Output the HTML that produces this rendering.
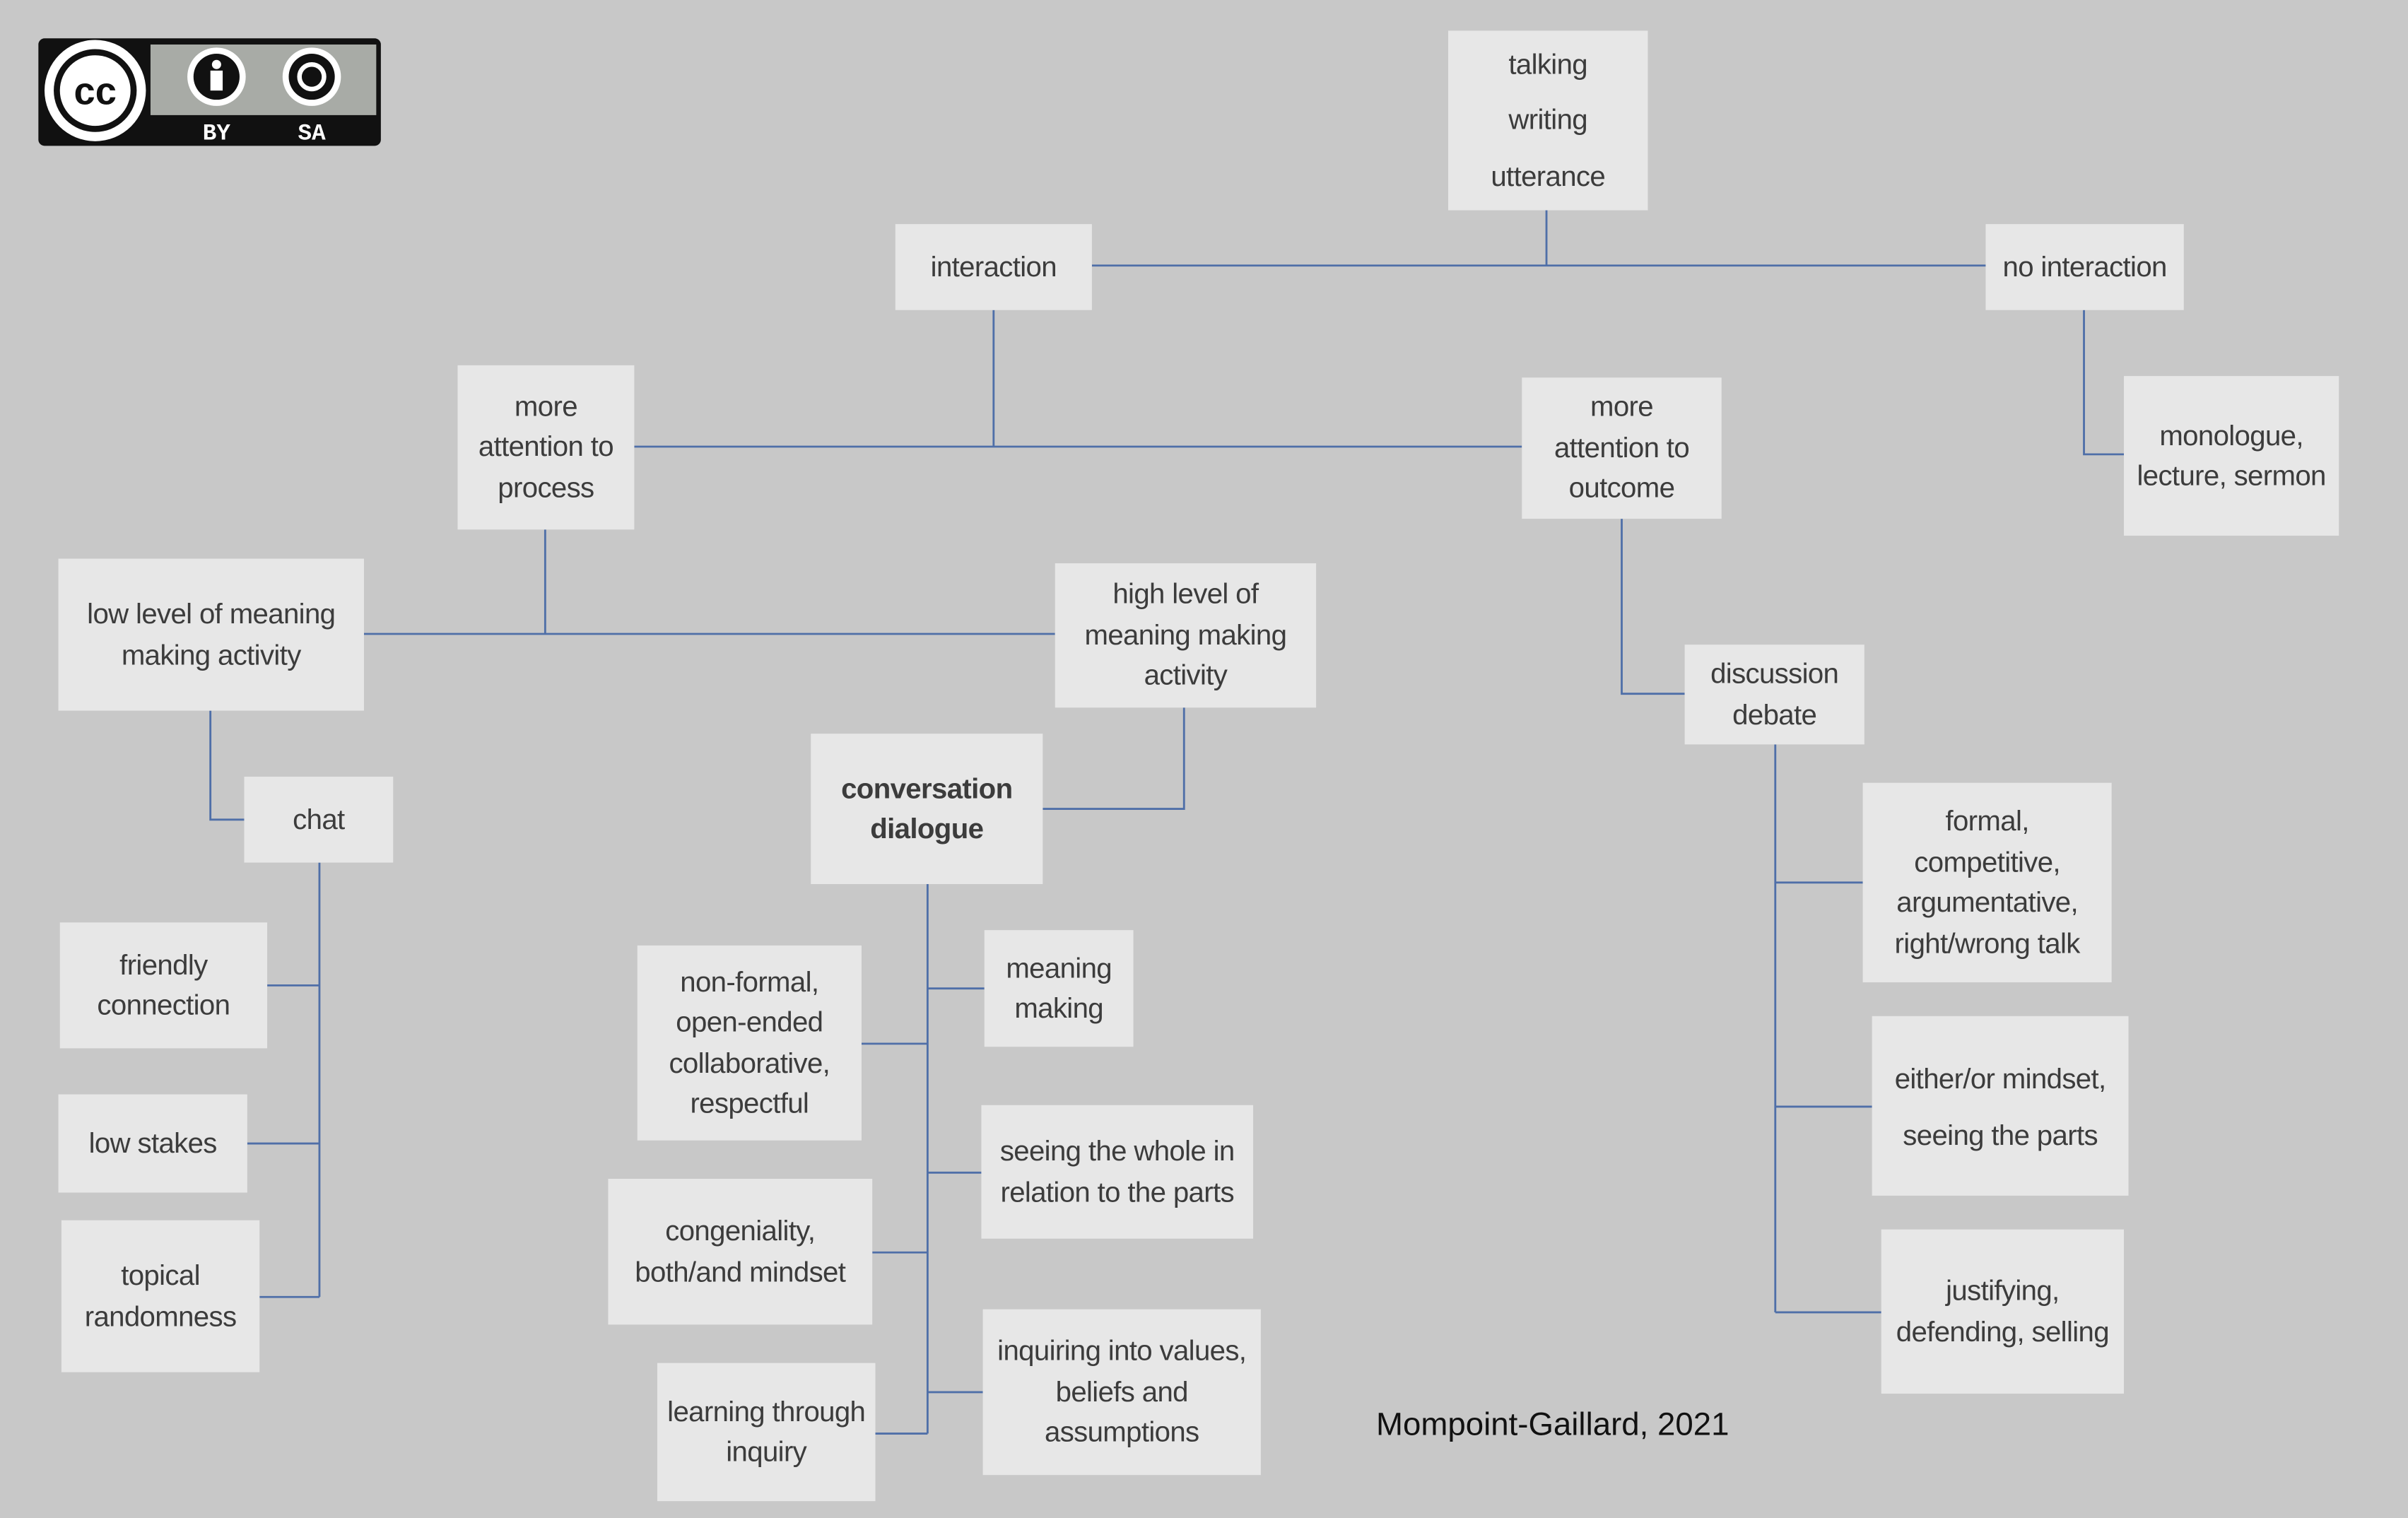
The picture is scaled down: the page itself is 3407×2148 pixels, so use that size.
<!DOCTYPE html>
<html><head><meta charset="utf-8"><style>
html,body{margin:0;padding:0;background:#c8c8c8;}
body{width:3407px;height:2148px;overflow:hidden;}
#s{position:absolute;left:0;top:0;width:1568px;height:989px;transform:scale(2.17283,2.17189);transform-origin:0 0;}
.b{position:absolute;background:#e7e7e7;display:flex;align-items:center;justify-content:center;text-align:center;font-family:"Liberation Sans",sans-serif;font-size:18.5px;line-height:26.5px;color:#3c3c3c;letter-spacing:-0.3px;}
svg{position:absolute;left:0;top:0;}
</style></head><body><div id="s">
<svg width="1568" height="989">
<g stroke="#4f6fa8" stroke-width="1.3" fill="none">
<path d="M711 173H1293M1007 137V173"/>
<path d="M647 202V291M413 291H991"/>
<path d="M1357 202V296H1383"/>
<path d="M355 345V413M237 413H687"/>
<path d="M137 463V534H159"/>
<path d="M771 461V527H679"/>
<path d="M1056 338V452H1097"/>
<path d="M208 562V845M208 642H174M208 745H161M208 845H169"/>
<path d="M604 576V934M604 644H641M604 764H639M604 907H640M604 680H561M604 816H568M604 934H570"/>
<path d="M1156 485V855M1156 575H1213M1156 721H1219M1156 855H1225"/>
</g>
<rect x="25" y="25" width="223" height="70" rx="4" fill="#111"/>
<rect x="98" y="29" width="147" height="46" fill="#a8aba6"/>
<circle cx="62" cy="59" r="33" fill="#fff"/>
<circle cx="62" cy="59" r="27" fill="#111"/>
<circle cx="62" cy="59" r="23" fill="#fff"/>
<text x="62" y="68" font-family="Liberation Sans" font-weight="bold" font-size="25" text-anchor="middle" fill="#111">cc</text>
<circle cx="141" cy="50" r="19" fill="#fff"/><circle cx="141" cy="50" r="15" fill="#111"/>
<circle cx="141" cy="42" r="3" fill="#fff"/><rect x="137" y="46" width="8" height="13" fill="#fff"/>
<circle cx="203" cy="50" r="19" fill="#fff"/><circle cx="203" cy="50" r="15" fill="#111"/>
<circle cx="203" cy="50" r="8" fill="none" stroke="#fff" stroke-width="3"/>
<text x="141" y="91" font-family="Liberation Mono" font-weight="bold" font-size="15" text-anchor="middle" fill="#fff">BY</text>
<text x="203" y="91" font-family="Liberation Mono" font-weight="bold" font-size="15" text-anchor="middle" fill="#fff">SA</text>
<text x="1011" y="935" font-family="Liberation Sans" font-size="21" text-anchor="middle" fill="#111">Mompoint-Gaillard, 2021</text>
</svg>
<div class="b" style="left:943px;top:20px;width:130px;height:117px;line-height:36.5px">talking<br>writing<br>utterance</div>
<div class="b" style="left:583px;top:146px;width:128px;height:56px">interaction</div>
<div class="b" style="left:1293px;top:146px;width:129px;height:56px">no interaction</div>
<div class="b" style="left:298px;top:238px;width:115px;height:107px">more<br>attention to<br>process</div>
<div class="b" style="left:991px;top:246px;width:130px;height:92px">more<br>attention to<br>outcome</div>
<div class="b" style="left:1383px;top:245px;width:140px;height:104px">monologue,<br>lecture, sermon</div>
<div class="b" style="left:38px;top:364px;width:199px;height:99px">low level of meaning<br>making activity</div>
<div class="b" style="left:687px;top:367px;width:170px;height:94px">high level of<br>meaning making<br>activity</div>
<div class="b" style="left:159px;top:506px;width:97px;height:56px">chat</div>
<div class="b" style="left:528px;top:478px;width:151px;height:98px;font-weight:bold">conversation<br>dialogue</div>
<div class="b" style="left:1097px;top:420px;width:117px;height:65px">discussion<br>debate</div>
<div class="b" style="left:39px;top:601px;width:135px;height:82px">friendly<br>connection</div>
<div class="b" style="left:38px;top:713px;width:123px;height:64px">low stakes</div>
<div class="b" style="left:40px;top:795px;width:129px;height:99px">topical<br>randomness</div>
<div class="b" style="left:415px;top:616px;width:146px;height:127px">non-formal,<br>open-ended<br>collaborative,<br>respectful</div>
<div class="b" style="left:641px;top:606px;width:97px;height:76px">meaning<br>making</div>
<div class="b" style="left:639px;top:720px;width:177px;height:87px">seeing the whole in<br>relation to the parts</div>
<div class="b" style="left:396px;top:768px;width:172px;height:95px">congeniality,<br>both/and mindset</div>
<div class="b" style="left:428px;top:888px;width:142px;height:90px">learning through<br>inquiry</div>
<div class="b" style="left:640px;top:853px;width:181px;height:108px">inquiring into values,<br>beliefs and<br>assumptions</div>
<div class="b" style="left:1213px;top:510px;width:162px;height:130px">formal,<br>competitive,<br>argumentative,<br>right/wrong talk</div>
<div class="b" style="left:1219px;top:662px;width:167px;height:117px;line-height:37px">either/or mindset,<br>seeing the parts</div>
<div class="b" style="left:1225px;top:801px;width:158px;height:107px">justifying,<br>defending, selling</div>
</div></body></html>
